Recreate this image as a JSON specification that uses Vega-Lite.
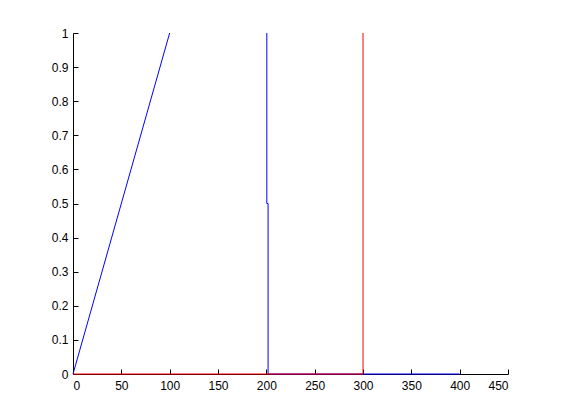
{
  "$schema": "https://vega.github.io/schema/vega-lite/v6.json",
  "autosize": {"type": "none"},
  "width": 435,
  "height": 341,
  "padding": {"left": 73, "top": 33, "right": 53, "bottom": 46},
  "background": "white",
  "config": {
    "view": {"stroke": null},
    "axis": {
      "domainColor": "black",
      "tickColor": "black",
      "labelColor": "black",
      "labelFont": "Liberation Sans",
      "labelFontSize": 12,
      "grid": false,
      "tickSize": -5,
      "domainWidth": 1,
      "tickWidth": 1,
      "zindex": 0
    }
  },
  "data": {
    "values": [
      {"series": "blue", "seg": "a", "order": 1, "x": 0, "y": 0},
      {"series": "blue", "seg": "a", "order": 2, "x": 100, "y": 1},
      {"series": "blue", "seg": "b", "order": 1, "x": 200.5, "y": 1},
      {"series": "blue", "seg": "b", "order": 2, "x": 200.5, "y": 0.5},
      {"series": "blue", "seg": "b", "order": 3, "x": 201.8, "y": 0.5},
      {"series": "blue", "seg": "b", "order": 4, "x": 201.8, "y": 0},
      {"series": "blue", "seg": "b", "order": 5, "x": 400, "y": 0},
      {"series": "red", "seg": "c", "order": 1, "x": 0, "y": 0},
      {"series": "red", "seg": "c", "order": 2, "x": 300, "y": 0},
      {"series": "red", "seg": "c", "order": 3, "x": 300, "y": 1}
    ]
  },
  "mark": {"type": "line", "clip": false, "strokeWidth": 1},
  "encoding": {
    "x": {
      "field": "x", "type": "quantitative",
      "scale": {"domain": [0, 450], "nice": false},
      "axis": {"title": null, "values": [0, 50, 100, 150, 200, 250, 300, 350, 400, 450], "labelPadding": 11, "format": "d"}
    },
    "y": {
      "field": "y", "type": "quantitative",
      "scale": {"domain": [0, 1], "nice": false},
      "axis": {"title": null, "values": [0, 0.1, 0.2, 0.3, 0.4, 0.5, 0.6, 0.7, 0.8, 0.9, 1], "format": "~g", "labelPadding": 10}
    },
    "detail": {"field": "seg"},
    "order": {"field": "order"},
    "color": {
      "field": "series", "type": "nominal",
      "scale": {"domain": ["blue", "red"], "range": ["#0000ff", "#ff0000"]},
      "legend": null
    }
  }
}
